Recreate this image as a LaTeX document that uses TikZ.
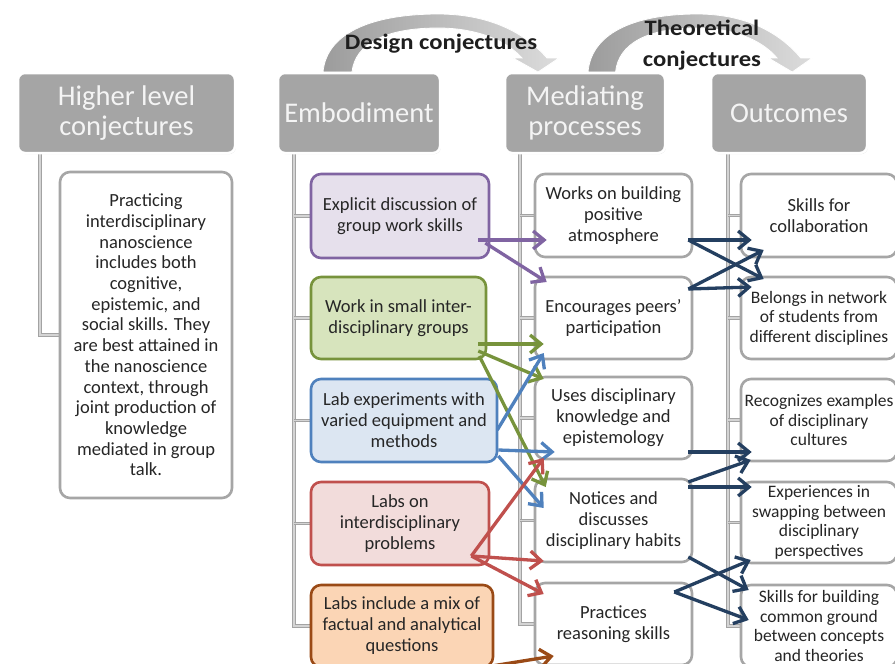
\documentclass[tikz,border=0pt]{standalone}
\usepackage{fontspec}
\setmainfont{Carlito}
\newfontfamily\ttlfam{Carlito}[FakeStretch=1.12]
\usetikzlibrary{arrows.meta,calc,shadows}

\definecolor{hdrfill}{HTML}{A5A5A5}
\definecolor{hdrtext}{HTML}{F4F4F4}
\definecolor{boxgray}{HTML}{A6A6A6}
\definecolor{treegray}{HTML}{A3A3A3}
\definecolor{treein}{HTML}{D4D4D4}
\definecolor{txt}{HTML}{262626}
\definecolor{ttl}{HTML}{1E1E1E}
\definecolor{arcdark}{HTML}{9C9C9C}
\definecolor{arclight}{HTML}{DCDCDC}
\definecolor{cpur}{HTML}{8064A2}
\definecolor{fpur}{HTML}{E6E0EC}
\definecolor{cgrn}{HTML}{77933C}
\definecolor{fgrn}{HTML}{D7E4BD}
\definecolor{cblu}{HTML}{4F81BD}
\definecolor{fblu}{HTML}{DCE6F2}
\definecolor{cred}{HTML}{C0504D}
\definecolor{fred}{HTML}{F2DCDB}
\definecolor{cbrn}{HTML}{9A4A16}
\definecolor{fbrn}{HTML}{FBD5B5}
\definecolor{cnav}{HTML}{243F60}

\pgfdeclarelayer{bg}
\pgfsetlayers{bg,main}

\begin{document}
\begin{tikzpicture}[x=1pt,y=-1pt,
  hdr/.style={rounded corners=7pt, fill=hdrfill, draw=white, line width=2.5pt,
    text=hdrtext, font=\fontsize{28.5}{30}\selectfont, align=center,
    minimum height=80pt, inner sep=2pt,
    drop shadow={opacity=0.25, shadow xshift=0.8pt, shadow yshift=-1.2pt}},
  gbox/.style={rounded corners=10pt, draw=boxgray, line width=2.6pt, fill=white,
    align=center, text=txt, font=\fontsize{18.5}{21}\selectfont, inner sep=1pt},
  cbox/.style 2 args={gbox, draw=#1, fill=#2},
  obox/.style={gbox, font=\fontsize{17.5}{19.5}\selectfont},
  tree/.style={draw=treegray, line width=1pt, double=treein, double distance=1.5pt},
  arr/.style={draw=#1, line width=3.3pt, -{Straight Barb[length=11pt,width=18pt]}},
  ttlfont/.style={font=\ttlfam\bfseries\fontsize{22}{31}\selectfont, text=ttl, align=center}
]
\useasboundingbox (0,0) rectangle (895,664);

% column headers
\node[hdr, minimum width=217pt] (h0) at (126.5,113) {Higher level\\conjectures};
\node[hdr, minimum width=162pt] (h1) at (359,113) {Embodiment};
\node[hdr, minimum width=160pt] (h2) at (585,113) {Mediating\\processes};
\node[hdr, minimum width=156pt] (h3) at (789,113) {Outcomes};

% higher level conjecture
\node[gbox, minimum width=172pt, minimum height=326pt,
      font=\fontsize{18.5}{20.7}\selectfont] (lb) at (146,335)
  {Practicing\\interdisciplinary\\nanoscience\\includes both\\cognitive,\\epistemic, and\\social skills. They\\are best attained in\\the nanoscience\\context, through\\joint production of\\knowledge\\mediated in group\\talk.};

% embodiment
\node[cbox={cpur}{fpur}, minimum width=178pt, minimum height=84pt] (e1) at (400,216)
  {Explicit discussion of\\group work skills};
\node[cbox={cgrn}{fgrn}, minimum width=175pt, minimum height=82pt] (e2) at (398.5,318)
  {Work in small inter-\\disciplinary groups};
\node[cbox={cblu}{fblu}, minimum width=186pt, minimum height=83pt] (e3) at (404,420.5)
  {Lab experiments with\\varied equipment and\\methods};
\node[cbox={cred}{fred}, minimum width=178pt, minimum height=83pt] (e4) at (400,523.5)
  {Labs on\\interdisciplinary\\problems};
\node[cbox={cbrn}{fbrn}, minimum width=182pt, minimum height=82pt] (e5) at (402,626)
  {Labs include a mix of\\factual and analytical\\questions};

% mediating processes
\node[gbox, minimum width=157pt, minimum height=83pt] (m1) at (613.5,215.5)
  {Works on building\\positive\\atmosphere};
\node[gbox, minimum width=157pt, minimum height=82pt] (m2) at (613.5,318)
  {Encourages peers’\\participation};
\node[gbox, minimum width=157pt, minimum height=82pt] (m3) at (613.5,418)
  {Uses disciplinary\\knowledge and\\epistemology};
\node[gbox, minimum width=157pt, minimum height=83pt] (m4) at (613.5,520.5)
  {Notices and\\discusses\\disciplinary habits};
\node[gbox, minimum width=157pt, minimum height=82pt] (m5) at (613.5,624)
  {Practices\\reasoning skills};

% outcomes
\node[gbox, minimum width=156pt, minimum height=83pt] (o1) at (819,215.5)
  {Skills for\\collaboration};
\node[obox, minimum width=156pt, minimum height=82pt] (o2) at (819,318)
  {Belongs in network\\of students from\\different disciplines};
\node[obox, minimum width=156pt, minimum height=82pt] (o3) at (819,420)
  {Recognizes examples\\of disciplinary\\cultures};
\node[obox, minimum width=156pt, minimum height=81pt] (o4) at (819,522.5)
  {Experiences in\\swapping between\\disciplinary\\perspectives};
\node[obox, minimum width=156pt, minimum height=82pt] (o5) at (819,626)
  {Skills for building\\common ground\\between concepts\\and theories};

% conjecture labels
\node[ttlfont] (dsg) at (441,44) {Design conjectures};
\node[ttlfont] (thr) at (702,45) {Theoretical\\conjectures};

\begin{pgfonlayer}{bg}
  \fill[white] (0,0) rectangle (895,664);
  % curved conjecture arrows
  \begin{scope}[shift={(323,72)}]
    \shade[left color=arcdark, right color=arclight, draw=white, line width=0.8pt]
      (0,0) .. controls (4,-42) and (55,-58) .. (115,-58)
      .. controls (168,-58) and (203,-38) .. (224,-14)
      -- (236,-14) -- (215,0) -- (190,-14) -- (199,-14)
      .. controls (183,-32) and (153,-44) .. (115,-44)
      .. controls (62,-44) and (32,-28) .. (29,0) -- cycle;
  \end{scope}
  \begin{scope}[shift={(588,72)}, xscale=0.95]
    \shade[left color=arcdark, right color=arclight, draw=white, line width=0.8pt]
      (0,0) .. controls (4,-42) and (55,-58) .. (115,-58)
      .. controls (168,-58) and (203,-38) .. (224,-14)
      -- (236,-14) -- (215,0) -- (190,-14) -- (199,-14)
      .. controls (183,-32) and (153,-44) .. (115,-44)
      .. controls (62,-44) and (32,-28) .. (29,0) -- cycle;
  \end{scope}

  % tree connectors
  \coordinate (t0) at ([xshift=-86.5pt]h0.south);
  \draw[tree] (t0) |- (lb.west);

  \coordinate (t1) at ([xshift=-65pt]h1.south);
  \draw[tree] (t1) |- (e5.west);
  \foreach \n in {e1,e2,e3,e4} \draw[tree] (t1 |- \n.west) -- (\n.west);

  \coordinate (t2) at ([xshift=-65pt]h2.south);
  \draw[tree] (t2) |- (m5.west);
  \foreach \n in {m1,m2,m3,m4} \draw[tree] (t2 |- \n.west) -- (\n.west);

  \coordinate (t3) at ([xshift=-61pt]h3.south);
  \draw[tree] (t3) |- (o5.west);
  \foreach \n in {o1,o2,o3,o4} \draw[tree] (t3 |- \n.west) -- (\n.west);
\end{pgfonlayer}

% embodiment -> mediating processes
\draw[arr=cpur] ([shift={(-12,24)}]e1.east) -- ([shift={(13,24.5)}]m1.west);
\draw[arr=cpur] ([shift={(-5,27)}]e1.east) -- ([shift={(13,-36)}]m2.west);

\draw[arr=cgrn] ([shift={(-9,26)}]e2.east) -- ([shift={(10,26)}]m2.west);
\draw[arr=cgrn] ([shift={(-9,33)}]e2.east) -- ([shift={(10,-39)}]m3.west);
\draw[arr=cgrn] ([shift={(-8,38)}]e2.east) -- ([shift={(12,-33.5)}]m4.west);

\draw[arr=cblu] ([shift={(-1,9.5)}]e3.east) -- ([shift={(10,35)}]m2.west);
\draw[arr=cblu] ([shift={(0,29.5)}]e3.east) -- ([shift={(21,34)}]m3.west);
\draw[arr=cblu] ([shift={(0,35.5)}]e3.east) -- ([shift={(10,-12.5)}]m4.west);

\coordinate (rv) at ([shift={(-19,32.5)}]e4.east);
\draw[arr=cred] (rv) -- ([shift={(10,40)}]m3.west);
\draw[arr=cred] (rv) -- ([shift={(10,40.5)}]m4.west);
\draw[arr=cred] (rv) -- ([shift={(10,-30)}]m5.west);

\draw[arr=cbrn] ([shift={(-15,42)}]e5.east) -- ([shift={(20,32)}]m5.west);

% mediating processes -> outcomes
\coordinate (n1) at ([shift={(-5,24.5)}]m1.east);
\draw[arr=cnav] (n1) -- ([shift={(12,24.5)}]o1.west);
\draw[arr=cnav] (n1) -- ([shift={(24,-39)}]o2.west);
\coordinate (n2) at ([shift={(-5,-29)}]m2.east);
\draw[arr=cnav] (n2) -- ([shift={(24,34.5)}]o1.west);
\draw[arr=cnav] (n2) -- ([shift={(12,-31)}]o2.west);
\draw[arr=cnav] ([shift={(-5,34)}]m3.east) -- ([shift={(12,32)}]o3.west);
\draw[arr=cnav] ([shift={(-5,-38.5)}]m4.east) -- ([shift={(11,40)}]o3.west);
\draw[arr=cnav] ([shift={(-5,-33.5)}]m4.east) -- ([shift={(12,-35.5)}]o4.west);
\draw[arr=cnav] ([shift={(-5,36.5)}]m4.east) -- ([shift={(9,-36)}]o5.west);
\coordinate (n5) at ([shift={(-19,-32)}]m5.east);
\draw[arr=cnav] (n5) -- ([shift={(11,37.5)}]o4.west);
\draw[arr=cnav] (n5) -- ([shift={(9,-6)}]o5.west);
\end{tikzpicture}
\end{document}
